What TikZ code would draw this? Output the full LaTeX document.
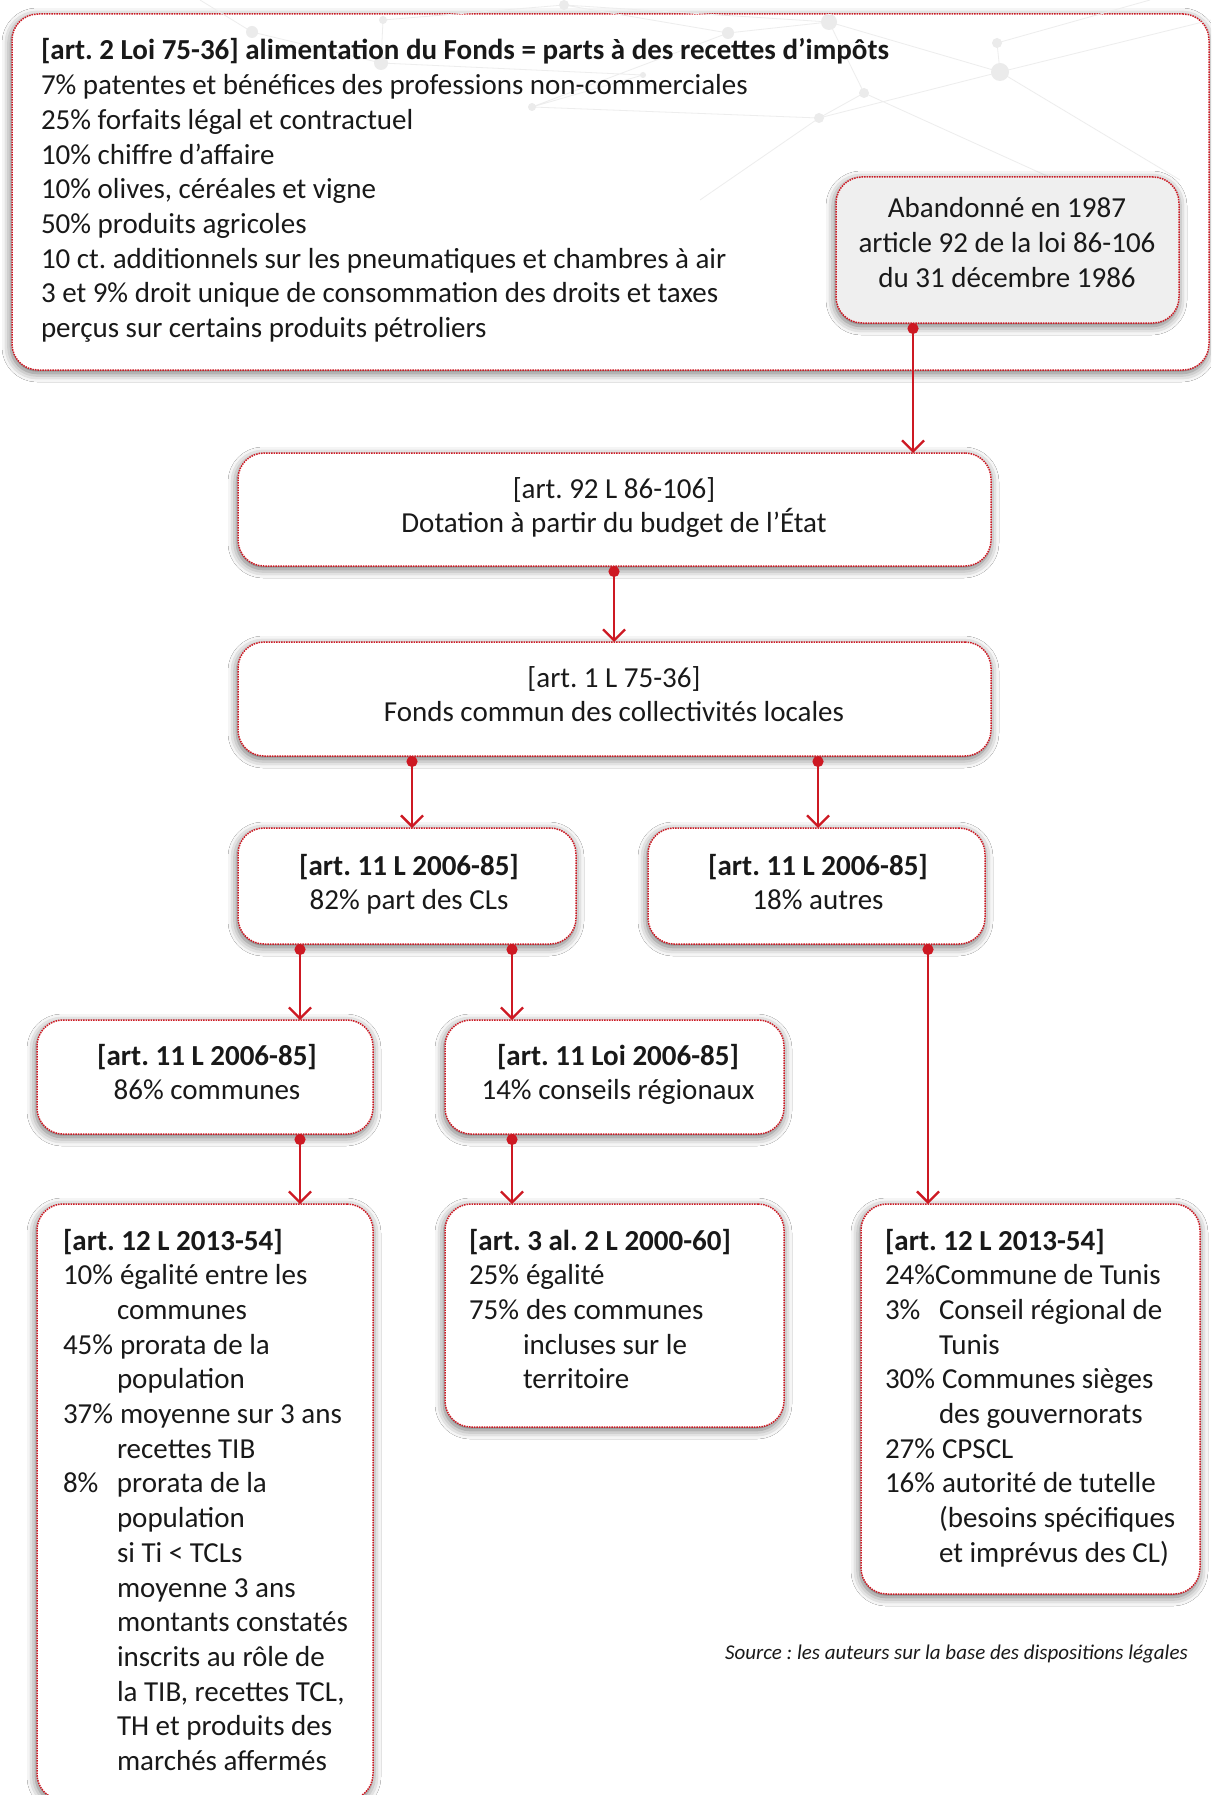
\documentclass[tikz,border=0pt]{standalone}
\usepackage{fontspec}
\setmainfont{Carlito}
\usetikzlibrary{arrows.meta,shadows.blur}
\definecolor{bred}{RGB}{205,25,35}
\definecolor{agray}{RGB}{239,239,239}
\definecolor{txtc}{RGB}{25,25,25}
\newcommand\pcx[1]{\makebox[57pt][l]{#1}}
\newcommand\pct[1]{\makebox[54pt][l]{#1}}
\newcommand\indx{\hspace*{54pt}}
\frenchspacing
\begin{document}
\begin{tikzpicture}[x=1pt,y=-1pt,
  box/.style={draw=bred, densely dotted, line width=1.5pt, rounded corners=26pt, fill=white,
    outer sep=0pt, inner sep=0pt,
    blur shadow={shadow xshift=-1pt, shadow yshift=-3pt, shadow blur radius=9pt, shadow opacity=60}},
  txt/.style={inner sep=0pt, outer sep=0pt, text=txtc, font=\fontsize{29}{34.7}\selectfont},
  conn/.style={draw=bred, line width=2.3pt, {Circle[length=11pt]}-{Straight Barb[length=11pt,width=22pt]}},
  net/.style={draw=black!7, line width=0.8pt},
  netdot/.style={fill=black!8, draw=none},
]
\useasboundingbox (0,0) rectangle (1211,1795);
\fill[white] (0,0) rectangle (1211,1795);
\clip (0,0) rectangle (1211,1795);

% boxes
\node[box, minimum width=1197pt, minimum height=356pt] (top) at (610.5,192) {};
% faint network in background
\coordinate (n1) at (829,22);  \coordinate (n2) at (728,33);  \coordinate (n3) at (997,43);
\coordinate (n4) at (1000,72); \coordinate (n5) at (864,93);  \coordinate (n6) at (819,118);
\coordinate (n7) at (532,107); \coordinate (n8) at (381,63);  \coordinate (n9) at (564,5);
\coordinate (n10) at (643,75); \coordinate (n11) at (252,32); \coordinate (n12) at (383,20);
\draw[net] (n1)--(n2) (n1)--(n4) (n1)--(n5) (n4)--(n3) (n4)--(n6) (n5)--(n6) (n2)--(n7)
  (n8)--(n11) (n8)--(n12) (n9)--(n2) (n10)--(n7) (n6)--(n7) (n4)--(1211,20) (n3)--(1150,0)
  (n11)--(200,0) (n8)--(n10) (n6)--(700,200) (n5)--(1100,200) (n1)--(n9) (n12)--(n9) (n4)--(1180,180);
\fill[netdot] (n1) circle (8) (n2) circle (6) (n3) circle (5) (n4) circle (9) (n5) circle (5)
  (n6) circle (5) (n7) circle (4) (n8) circle (7) (n9) circle (5) (n10) circle (3) (n11) circle (6) (n12) circle (4);

\node[box, fill=agray, minimum width=343pt, minimum height=146pt] (aband) at (1007.5,250) {};
\node[box, minimum width=753pt, minimum height=113pt] (dot) at (614.5,509.5) {};
\node[box, minimum width=753pt, minimum height=114pt] (fonds) at (614.5,699) {};
\node[box, minimum width=338pt, minimum height=116pt] (b82) at (407,886) {};
\node[box, minimum width=337pt, minimum height=116pt] (b18) at (816.5,886) {};
\node[box, minimum width=336pt, minimum height=114pt] (b86) at (205,1077) {};
\node[box, minimum width=339pt, minimum height=114pt] (b14) at (614.5,1077) {};
\node[box, minimum width=336pt, minimum height=596pt] (b5a) at (205,1502) {};
\node[box, minimum width=339pt, minimum height=223pt] (b5b) at (614.5,1315.5) {};
\node[box, minimum width=339pt, minimum height=390pt] (b5c) at (1030.5,1399) {};

% texts
\node[txt, anchor=base west] (ttop) at (41,60) {\begin{tabular}[t]{@{}l@{}}
\textbf{[art. 2 Loi 75-36] alimentation du Fonds = parts à des recettes d’impôts}\\
7\% patentes et bénéfices des professions non-commerciales\\
25\% forfaits légal et contractuel\\
10\% chiffre d’affaire\\
10\% olives, céréales et vigne\\
50\% produits agricoles\\
10 ct. additionnels sur les pneumatiques et chambres à air\\
3 et 9\% droit unique de consommation des droits et taxes\\
perçus sur certains produits pétroliers
\end{tabular}};
\node[txt, anchor=base] (taband) at (1007,218) {\begin{tabular}[t]{@{}c@{}}
Abandonné en 1987\\ article 92 de la loi 86-106\\ du 31 décembre 1986\end{tabular}};
\node[txt, anchor=base] (tdot) at (614,498) {\begin{tabular}[t]{@{}c@{}}
[art. 92 L 86-106]\\ Dotation à partir du budget de l’État\end{tabular}};
\node[txt, anchor=base] (tfonds) at (614,687) {\begin{tabular}[t]{@{}c@{}}
[art. 1 L 75-36]\\ Fonds commun des collectivités locales\end{tabular}};
\node[txt, anchor=base] (t82) at (409,875) {\begin{tabular}[t]{@{}c@{}}
\textbf{[art. 11 L 2006-85]}\\ 82\% part des CLs\end{tabular}};
\node[txt, anchor=base] (t18) at (818,875) {\begin{tabular}[t]{@{}c@{}}
\textbf{[art. 11 L 2006-85]}\\ 18\% autres\end{tabular}};
\node[txt, anchor=base] (t86) at (207,1065) {\begin{tabular}[t]{@{}c@{}}
\textbf{[art. 11 L 2006-85]}\\ 86\% communes\end{tabular}};
\node[txt, anchor=base] (t14) at (618,1065) {\begin{tabular}[t]{@{}c@{}}
\textbf{[art. 11 Loi 2006-85]}\\ 14\% conseils régionaux\end{tabular}};
\node[txt, anchor=base west] (t5a) at (63,1250) {\begin{tabular}[t]{@{}l@{}}
\textbf{[art. 12 L 2013-54]}\\
\pcx{10\%}égalité entre les\\
\indx communes\\
\pcx{45\%}prorata de la\\
\indx population\\
\pcx{37\%}moyenne sur 3 ans\\
\indx recettes TIB\\
\pct{8\%}prorata de la\\
\indx population\\
\indx si Ti < TCLs\\
\indx moyenne 3 ans\\
\indx montants constatés\\
\indx inscrits au rôle de\\
\indx la TIB, recettes TCL,\\
\indx TH et produits des\\
\indx marchés affermés
\end{tabular}};
\node[txt, anchor=base west] (t5b) at (469,1250) {\begin{tabular}[t]{@{}l@{}}
\textbf{[art. 3 al. 2 L 2000-60]}\\
\pcx{25\%}égalité\\
\pcx{75\%}des communes\\
\indx incluses sur le\\
\indx territoire
\end{tabular}};
\node[txt, anchor=base west] (t5c) at (885,1250) {\begin{tabular}[t]{@{}l@{}}
\textbf{[art. 12 L 2013-54]}\\
24\%Commune de Tunis\\
\pct{3\%}Conseil régional de\\
\indx Tunis\\
\pcx{30\%}Communes sièges\\
\indx des gouvernorats\\
\pcx{27\%}CPSCL\\
\pcx{16\%}autorité de tutelle\\
\indx (besoins spécifiques\\
\indx et imprévus des CL)
\end{tabular}};
\node[inner sep=0pt, anchor=base east, text=txtc, font=\fontsize{21}{25}\selectfont\itshape] (src) at (1188,1659)
  {Source : les auteurs sur la base des dispositions légales};

% connectors
\coordinate (xa) at (913,0);
\coordinate (xb) at (614,0);
\coordinate (xc) at (412,0);
\coordinate (xd) at (818,0);
\coordinate (xe) at (300,0);
\coordinate (xf) at (512,0);
\coordinate (xg) at (928,0);
\draw[conn] (aband.south -| xa) -- (dot.north -| xa);
\draw[conn] (dot.south -| xb) -- (fonds.north -| xb);
\draw[conn] (fonds.south -| xc) -- (b82.north -| xc);
\draw[conn] (fonds.south -| xd) -- (b18.north -| xd);
\draw[conn] (b82.south -| xe) -- (b86.north -| xe);
\draw[conn] (b82.south -| xf) -- (b14.north -| xf);
\draw[conn] (b18.south -| xg) -- (b5c.north -| xg);
\draw[conn] (b86.south -| xe) -- (b5a.north -| xe);
\draw[conn] (b14.south -| xf) -- (b5b.north -| xf);
\end{tikzpicture}
\end{document}
